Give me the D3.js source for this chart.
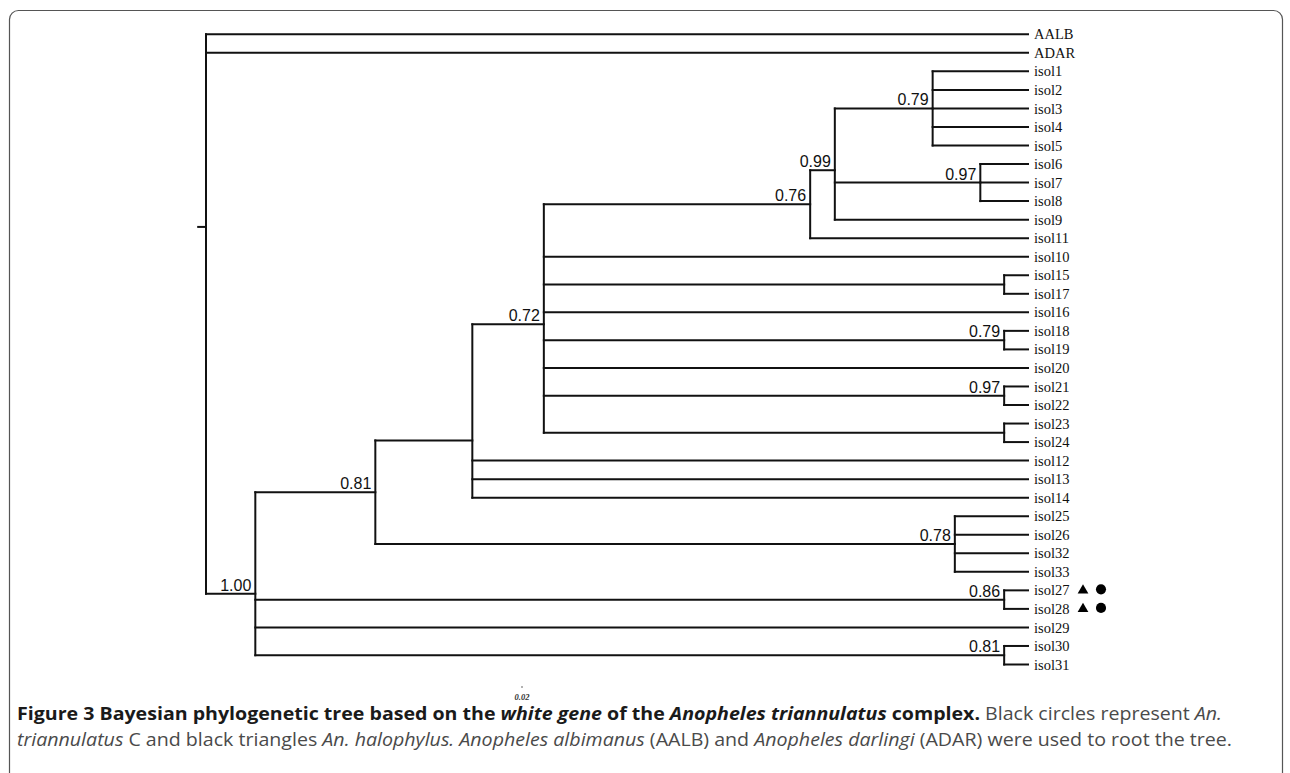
<!DOCTYPE html>
<html>
<head>
<meta charset="utf-8">
<script src="https://cdn.jsdelivr.net/npm/d3@7"></script>
<style>
  html, body { margin: 0; padding: 0; background: #fff; }
  svg { display: block; }
</style>
</head>
<body>
<svg id="chart" width="1290" height="773"></svg>
<script>
// ---------- DATA ----------
const leaves = ["AALB","ADAR","isol1","isol2","isol3","isol4","isol5","isol6","isol7","isol8","isol9","isol11",
  "isol10","isol15","isol17","isol16","isol18","isol19","isol20","isol21","isol22","isol23","isol24",
  "isol12","isol13","isol14","isol25","isol26","isol32","isol33","isol27","isol28","isol29","isol30","isol31"];
const leafParents = ["root","root","n079a","n079a","n079a","n079a","n079a","n097a","n097a","n097a","n099","n076",
  "n072","n15","n15","n072","n079b","n079b","n072","n097b","n097b","n23","n23",
  "n472","n472","n472","n078","n078","n078","n078","n086","n086","n100","n081b","n081b"];

const nodeIds     = ["root","n100","n081","n472","n072","n076","n099","n079a","n097a","n15","n079b","n097b","n23","n078","n086","n081b"];
const nodeParents = [null,"root","n100","n081","n472","n072","n076","n099","n099","n072","n072","n072","n072","n081","n100","n100"];
// cumulative distance from root (tips aligned at 1)
const nodeDepths  = [0, 0.060, 0.206, 0.324, 0.411, 0.735, 0.765, 0.884, 0.942, 0.971, 0.971, 0.971, 0.971, 0.911, 0.971, 0.971];
const nodeSupport = ["","1.00","0.81","","0.72","0.76","0.99","0.79","0.97","","0.79","0.97","","0.78","0.86","0.81"];

const markerLeaves  = ["isol27","isol28"];
const markerSymbols = ["triangle","circle"];

const scaleBarLabel = "0.02";

const captionLine1 = [
  {t:"Figure 3 Bayesian phylogenetic tree based on the ", w:"bold", s:"normal"},
  {t:"white gene", w:"bold", s:"italic"},
  {t:" of the ", w:"bold", s:"normal"},
  {t:"Anopheles triannulatus", w:"bold", s:"italic"},
  {t:" complex.", w:"bold", s:"normal"},
  {t:" Black circles represent ", w:"normal", s:"normal"},
  {t:"An.", w:"normal", s:"italic"}
];
const captionLine2 = [
  {t:"triannulatus", w:"normal", s:"italic"},
  {t:" C and black triangles ", w:"normal", s:"normal"},
  {t:"An. halophylus. Anopheles albimanus", w:"normal", s:"italic"},
  {t:" (AALB) and ", w:"normal", s:"normal"},
  {t:"Anopheles darlingi", w:"normal", s:"italic"},
  {t:" (ADAR) were used to root the tree.", w:"normal", s:"normal"}
];

// ---------- BUILD ----------
const svg = d3.select("#chart");

// frame
svg.append("rect")
  .attr("x", 9.5).attr("y", 10.5)
  .attr("width", 1273).attr("height", 800)
  .attr("rx", 9)
  .attr("fill", "none").attr("stroke", "#555").attr("stroke-width", 1.2);

const rows = nodeIds.map((id, i) => ({id, parentId: nodeParents[i], depth: nodeDepths[i], support: nodeSupport[i]}))
  .concat(leaves.map((id, i) => ({id, parentId: leafParents[i], depth: 1, support: ""})));

const root = d3.stratify().id(d => d.id).parentId(d => d.parentId)(rows);

const x = d3.scaleLinear().domain([0, 1]).range([206, 1028]);
const y = d3.scalePoint().domain(leaves).range([34.3, 664.5]);

root.eachAfter(n => {
  n.px = x(n.data.depth);
  n.py = n.children ? d3.mean(n.children, c => c.py) : y(n.data.id);
});

const g = svg.append("g").attr("stroke", "#111").attr("stroke-width", 2).attr("fill", "none")
  .attr("stroke-linecap", "square");

// horizontal branches
g.selectAll("line.h").data(root.descendants().filter(n => n.parent))
  .join("line").attr("class", "h")
  .attr("x1", n => n.parent.px).attr("x2", n => n.px)
  .attr("y1", n => n.py).attr("y2", n => n.py);

// vertical connectors
g.selectAll("line.v").data(root.descendants().filter(n => n.children))
  .join("line").attr("class", "v")
  .attr("x1", n => n.px).attr("x2", n => n.px)
  .attr("y1", n => d3.min(n.children, c => c.py))
  .attr("y2", n => d3.max(n.children, c => c.py));

// root stub
g.append("line")
  .attr("x1", x(-0.0095)).attr("x2", x(0))
  .attr("y1", root.py).attr("y2", root.py);

// support values
svg.append("g").selectAll("text").data(root.descendants().filter(n => n.data.support))
  .join("text")
  .attr("x", n => n.px - 4).attr("y", n => n.py - 3)
  .attr("text-anchor", "end")
  .attr("font-family", "'Liberation Sans', Arial, sans-serif")
  .attr("font-size", 16).attr("fill", "#111")
  .text(n => n.data.support);

// leaf labels
svg.append("g").selectAll("text").data(root.leaves())
  .join("text")
  .attr("x", n => n.px + 6).attr("y", n => n.py)
  .attr("dy", "0.35em")
  .attr("font-family", "'Liberation Serif', 'Times New Roman', serif")
  .attr("font-size", 14.5).attr("fill", "#111")
  .text(n => n.data.id);

// markers
const symMap = {triangle: d3.symbolTriangle, circle: d3.symbolCircle};
const symSize = {triangle: 50, circle: 80};
markerLeaves.forEach(name => {
  const yy = y(name) - 1;
  markerSymbols.forEach((s, j) => {
    svg.append("path")
      .attr("d", d3.symbol().type(symMap[s]).size(symSize[s])())
      .attr("transform", `translate(${1083 + j * 18},${yy + (s === "triangle" ? 1 : 0)})`)
      .attr("fill", "#000");
  });
});

// scale bar
svg.append("line").attr("x1", 521.5).attr("x2", 522.5).attr("y1", 687).attr("y2", 687)
  .attr("stroke", "#333").attr("stroke-width", 1.5);
svg.append("text").attr("x", 522).attr("y", 700).attr("text-anchor", "middle")
  .attr("font-family", "'Liberation Serif', serif").attr("font-style", "italic").attr("font-weight", "bold")
  .attr("font-size", 8.5).attr("fill", "#333").text(scaleBarLabel);

// caption
function captionLine(parts, yy, len) {
  const t = svg.append("text").attr("x", 17).attr("y", yy)
    .attr("font-family", "'Open Sans', 'Noto Sans', sans-serif")
    .attr("font-size", 18.5)
    .attr("textLength", len).attr("lengthAdjust", "spacingAndGlyphs");
  parts.forEach(p => {
    t.append("tspan").attr("font-weight", p.w).attr("font-style", p.s)
      .attr("fill", p.w === "bold" ? "#1a1a1a" : "#4a4a4a").text(p.t);
  });
}
captionLine(captionLine1, 720, 1205);
captionLine(captionLine2, 746, 1215);
</script>
</body>
</html>
